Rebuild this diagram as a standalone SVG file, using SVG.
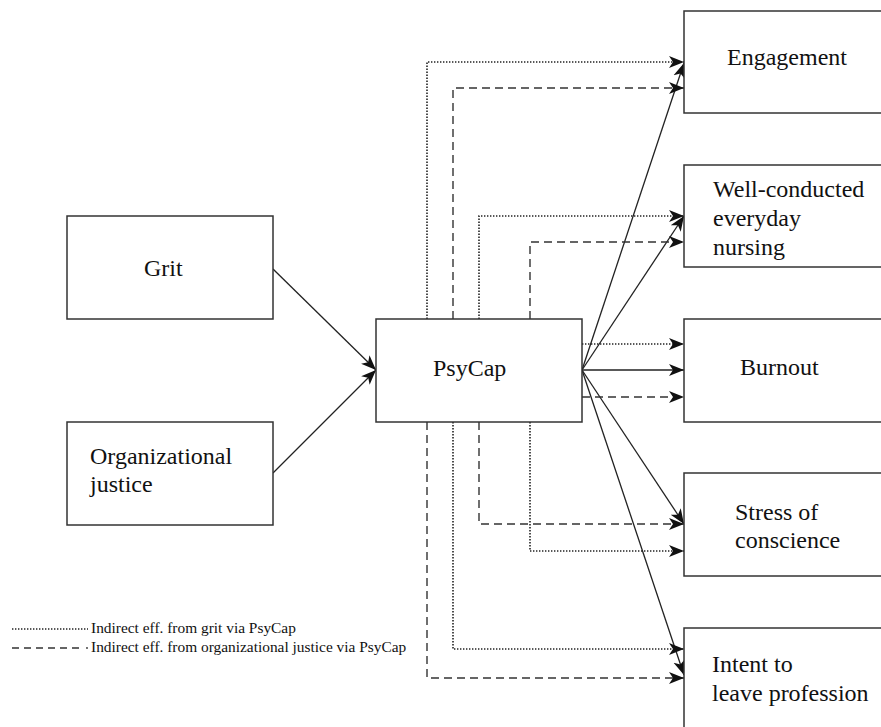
<svg xmlns="http://www.w3.org/2000/svg" width="881" height="727" viewBox="0 0 881 727">
<style>
.box{fill:#fff;stroke:#333;stroke-width:1.5}
.lbl{font-family:"Liberation Serif",serif;font-size:24px;fill:#111}
.leg{font-family:"Liberation Serif",serif;font-size:15.4px;fill:#111}
.solid{fill:none;stroke:#222;stroke-width:1.3}
.dot{fill:none;stroke:#222;stroke-width:1.6;stroke-dasharray:1.4 1.6}
.dash{fill:none;stroke:#333;stroke-width:1.4;stroke-dasharray:8 5}
</style>
<defs>
<marker id="arr" markerUnits="userSpaceOnUse" markerWidth="16" markerHeight="14" refX="15" refY="6" orient="auto" viewBox="0 0 16 12">
<path d="M0,0 L15,6 L0,12 L4,6 z" fill="#111"/>
</marker>
</defs>
<rect width="881" height="727" fill="#fff"/>
<g id="connectors">
<line class="solid" x1="273" y1="269" x2="376" y2="370" marker-end="url(#arr)"/>
<line class="solid" x1="273" y1="473" x2="376" y2="370" marker-end="url(#arr)"/>
<line class="solid" x1="582" y1="370" x2="684" y2="63" marker-end="url(#arr)"/>
<line class="solid" x1="582" y1="370" x2="684" y2="216" marker-end="url(#arr)"/>
<line class="solid" x1="582" y1="370" x2="684" y2="370" marker-end="url(#arr)"/>
<line class="solid" x1="582" y1="370" x2="684" y2="524" marker-end="url(#arr)"/>
<line class="solid" x1="582" y1="370" x2="684" y2="675" marker-end="url(#arr)"/>
<polyline class="dot" points="427,319 427,62 684,62" marker-end="url(#arr)"/>
<polyline class="dash" points="453,319 453,88 684,88" marker-end="url(#arr)"/>
<polyline class="dot" points="479,319 479,216 684,216" marker-end="url(#arr)"/>
<polyline class="dash" points="530,319 530,242 684,242" marker-end="url(#arr)"/>
<line class="dot" x1="582" y1="344" x2="684" y2="344" marker-end="url(#arr)"/>
<line class="dash" x1="582" y1="397" x2="684" y2="397" marker-end="url(#arr)"/>
<polyline class="dash" points="479,422 479,524 684,524" marker-end="url(#arr)"/>
<polyline class="dot" points="530,422 530,551 684,551" marker-end="url(#arr)"/>
<polyline class="dot" points="453,422 453,649 684,649" marker-end="url(#arr)"/>
<polyline class="dash" points="427,422 427,678 684,678" marker-end="url(#arr)"/>
</g>
<g id="grit"><rect class="box" x="67" y="216" width="206" height="103"/><text class="lbl" x="144" y="276">Grit</text></g>
<g id="orgjustice"><rect class="box" x="67" y="422" width="206" height="103"/><text class="lbl" x="90" y="464">Organizational</text><text class="lbl" x="90" y="492">justice</text></g>
<g id="psycap"><rect class="box" x="376" y="319" width="206" height="103"/><text class="lbl" x="433" y="376">PsyCap</text></g>
<g id="engagement"><rect class="box" x="684" y="11" width="250" height="102"/><text class="lbl" x="727" y="65">Engagement</text></g>
<g id="nursing"><rect class="box" x="684" y="165" width="250" height="102"/><text class="lbl" x="713" y="197">Well-conducted</text><text class="lbl" x="713" y="226">everyday</text><text class="lbl" x="713" y="255">nursing</text></g>
<g id="burnout"><rect class="box" x="684" y="319" width="250" height="103"/><text class="lbl" x="740" y="375">Burnout</text></g>
<g id="stress"><rect class="box" x="684" y="473" width="250" height="103"/><text class="lbl" x="735" y="520">Stress of</text><text class="lbl" x="735" y="548">conscience</text></g>
<g id="intent"><rect class="box" x="684" y="628" width="250" height="120"/><text class="lbl" x="712" y="672">Intent to</text><text class="lbl" x="712" y="701">leave profession</text></g>
<g id="legend">
<line class="dot" x1="12" y1="629" x2="88" y2="629"/>
<text class="leg" x="91" y="633">Indirect eff. from grit via PsyCap</text>
<line x1="12" y1="648" x2="82" y2="648" stroke="#333" stroke-width="1.4" stroke-dasharray="7 5"/>
<circle cx="87" cy="648" r="0.9" fill="#333"/>
<text class="leg" x="91" y="652">Indirect eff. from organizational justice via PsyCap</text>
</g>
</svg>
